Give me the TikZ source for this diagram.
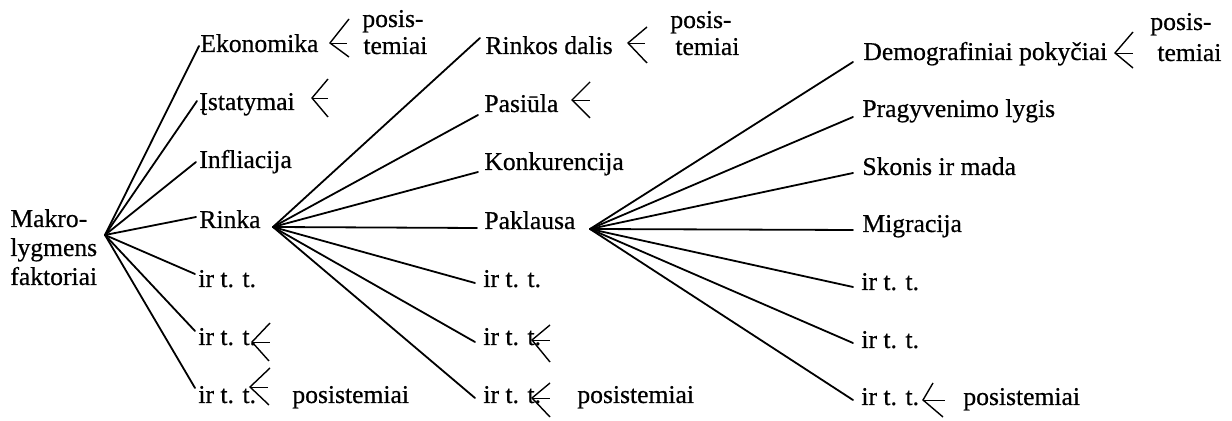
\documentclass[tikz,border=0pt]{standalone}
\usepackage{fontspec}
\setmainfont{Liberation Serif}[FakeBold=0.6]
\begin{document}
\begin{tikzpicture}[x=0.5pt,y=-0.5pt,
  lbl/.style={anchor=base west, inner sep=0pt, font=\fontsize{12.8}{14.5}\selectfont},
  br/.style={line width=0.9pt, line cap=round},
  chev/.style={line width=0.7pt},
  shaft/.style={line width=0.45pt}]
\useasboundingbox (0,0) rectangle (1232,421);

% root text
\node[lbl] (mak1) at (10,227) {Makro-};
\node[lbl] (mak2) at (10,256) {lygmens};
\node[lbl] (mak3) at (10,285) {faktoriai};
\coordinate (r0) at (105,235);

% level 1 labels
\node[lbl] (ek) at (200,52) {Ekonomika};
\node[lbl] (is) at (199,110) {Įstatymai};
\node[lbl] (in) at (199,168) {Infliacija};
\node[lbl] (ri) at (199,228) {Rinka};
\node[lbl] (a5) at (198,287) {ir t. t.};
\node[lbl] (a6) at (198,345) {ir t. t.};
\node[lbl] (a7) at (198,403) {ir t. t.};
\coordinate (e1) at (199,46);
\coordinate (e2) at (197,101);
\coordinate (e3) at (196,162);
\coordinate (e4) at (196,217);
\coordinate (e5) at (195,274);
\coordinate (e6) at (195,331);
\coordinate (e7) at (195,388);
\foreach \e in {e1,e2,e3,e4,e5,e6,e7} \draw[br] (r0) -- (\e);

% level 2
\coordinate (r1) at (273,227);
\node[lbl] (rd) at (485,54) {Rinkos dalis};
\node[lbl] (pa) at (484,112) {Pasiūla};
\node[lbl] (ko) at (484,170) {Konkurencija};
\node[lbl] (pk) at (484,229) {Paklausa};
\node[lbl] (b5) at (483,287) {ir t. t.};
\node[lbl] (b6) at (483,345) {ir t. t.};
\node[lbl] (b7) at (483,403) {ir t. t.};
\coordinate (f1) at (480,38);
\coordinate (f2) at (478,115);
\coordinate (f3) at (478,172);
\coordinate (f4) at (477,228);
\coordinate (f5) at (475,283);
\coordinate (f6) at (475,342);
\coordinate (f7) at (475,398);
\foreach \e in {f1,f2,f3,f4,f5,f6,f7} \draw[br] (r1) -- (\e);

% level 3
\coordinate (r2) at (590,229);
\node[lbl] (de) at (863,60) {Demografiniai pokyčiai};
\node[lbl] (pr) at (862,117) {Pragyvenimo lygis};
\node[lbl] (sk) at (862,175) {Skonis ir mada};
\node[lbl] (mi) at (862,232) {Migracija};
\node[lbl] (c5) at (861,290) {ir t. t.};
\node[lbl] (c6) at (861,348) {ir t. t.};
\node[lbl] (c7) at (861,405) {ir t. t.};
\coordinate (g1) at (853,62);
\coordinate (g2) at (853,117);
\coordinate (g3) at (853,173);
\coordinate (g4) at (853,230);
\coordinate (g5) at (853,287);
\coordinate (g6) at (853,343);
\coordinate (g7) at (853,400);
\foreach \e in {g1,g2,g3,g4,g5,g6,g7} \draw[br] (r2) -- (\e);

% chevrons (left-pointing)
\draw[chev] (349,19) -- (330,43) -- (349,57);  \draw[shaft] (330,43) -- (347,43);
\draw[chev] (328,79) -- (312,98) -- (328,117); \draw[shaft] (312,98) -- (328,98);
\draw[chev] (270,323) -- (252,342) -- (269,361); \draw[shaft] (252,342) -- (270,342);
\draw[chev] (270,368) -- (250,387) -- (269,405); \draw[shaft] (250,387) -- (268,387);

\draw[chev] (647,27) -- (628,43) -- (647,63);  \draw[shaft] (628,43) -- (645,43);
\draw[chev] (590,82) -- (572,100) -- (590,118); \draw[shaft] (572,100) -- (590,100);
\draw[chev] (550,325) -- (532,340) -- (550,362); \draw[shaft] (532,340) -- (550,340);
\draw[chev] (550,383) -- (532,398) -- (550,417); \draw[shaft] (532,398) -- (550,398);

\draw[chev] (1133,32) -- (1115,53) -- (1133,68); \draw[shaft] (1115,53) -- (1133,53);
\draw[chev] (933,383) -- (923,400) -- (943,417); \draw[shaft] (923,400) -- (945,400);

% posistemiai labels
\node[lbl] (p1a) at (362,27) {posis-};
\node[lbl] (p1b) at (363,54) {temiai};
\node[lbl] (p2) at (292,403) {posistemiai};
\node[lbl] (p3a) at (670,28) {posis-};
\node[lbl] (p3b) at (675,55) {temiai};
\node[lbl] (p4) at (577,403) {posistemiai};
\node[lbl] (p5a) at (1150,30) {posis-};
\node[lbl] (p5b) at (1157,61) {temiai};
\node[lbl] (p6) at (963,405) {posistemiai};
\end{tikzpicture}
\end{document}
